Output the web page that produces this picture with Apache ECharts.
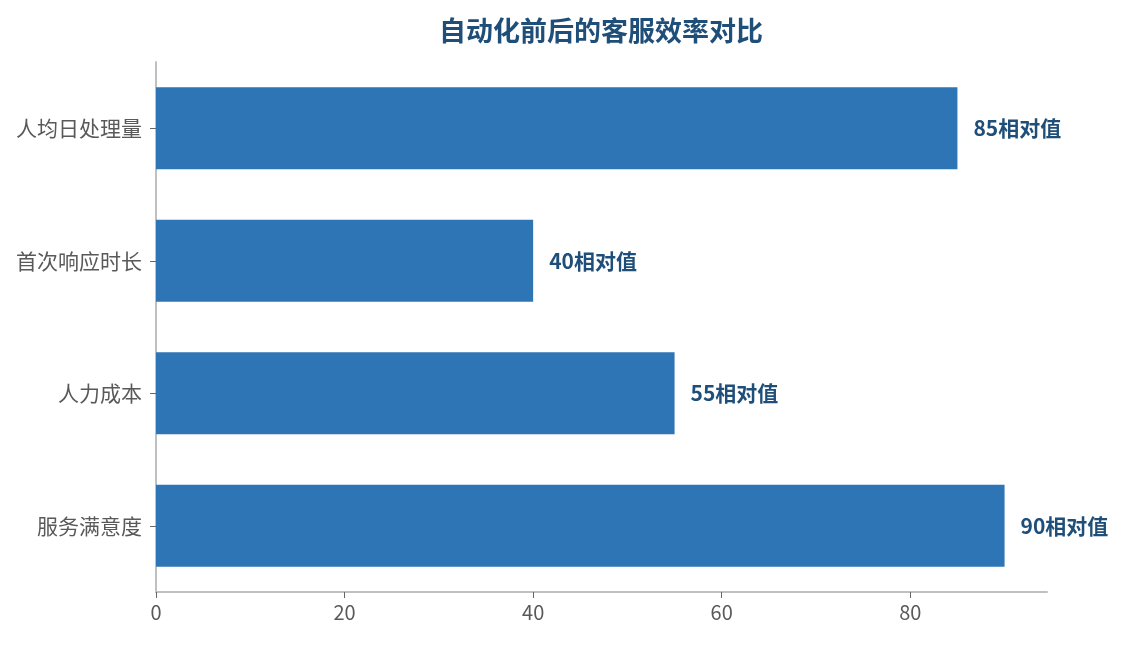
<!DOCTYPE html>
<html>
<head>
<meta charset="utf-8">
<script src="https://cdn.jsdelivr.net/npm/echarts@6/dist/echarts.min.js"></script>
<style>
  html, body { margin: 0; padding: 0; background: #fff; }
  #main { width: 1124px; height: 645px; }
</style>
</head>
<body>
<div id="main"></div>
<script>
// 指标（自上而下显示）
var categories = ['服务满意度', '人力成本', '首次响应时长', '人均日处理量'];
var values = [90, 55, 40, 85];
var unit = '相对值';

var myChart = echarts.init(document.getElementById('main'));
myChart.setOption({
    title: {
        text: '自动化前后的客服效率对比',
        left: 596,
        textAlign: 'center',
        top: 12,
        textStyle: {
            color: '#1F4E79',
            fontSize: 27,
            fontWeight: 'bold',
            fontFamily: 'Noto Sans CJK SC'
        }
    },
    textStyle: { fontFamily: 'Noto Sans CJK SC' },
    grid: { left: 156, right: 77, top: 62, bottom: 53 },
    xAxis: {
        type: 'value',
        min: 0,
        max: function (v) { return v.max * 1.05; },
        interval: 20,
        splitLine: { show: false },
        axisLine: { show: true, lineStyle: { color: '#c0c0c0', width: 2 } },
        axisTick: { show: true, length: 6, lineStyle: { color: '#666' } },
        axisLabel: { color: '#595959', fontSize: 20, margin: 10, showMaxLabel: false }
    },
    yAxis: {
        type: 'category',
        data: categories,
        axisLine: { show: true, lineStyle: { color: '#c0c0c0', width: 2 } },
        axisTick: { show: true, alignWithLabel: true, length: 6, lineStyle: { color: '#666' } },
        axisLabel: { color: '#595959', fontSize: 21, margin: 14 }
    },
    series: [{
        type: 'bar',
        data: values,
        barWidth: '62%',
        itemStyle: { color: '#2E75B6' },
        label: {
            show: true,
            position: 'right',
            distance: 16,
            formatter: function (p) { return p.value + unit; },
            color: '#1F4E79',
            fontSize: 21,
            fontWeight: 'bold'
        }
    }]
});
</script>
</body>
</html>
